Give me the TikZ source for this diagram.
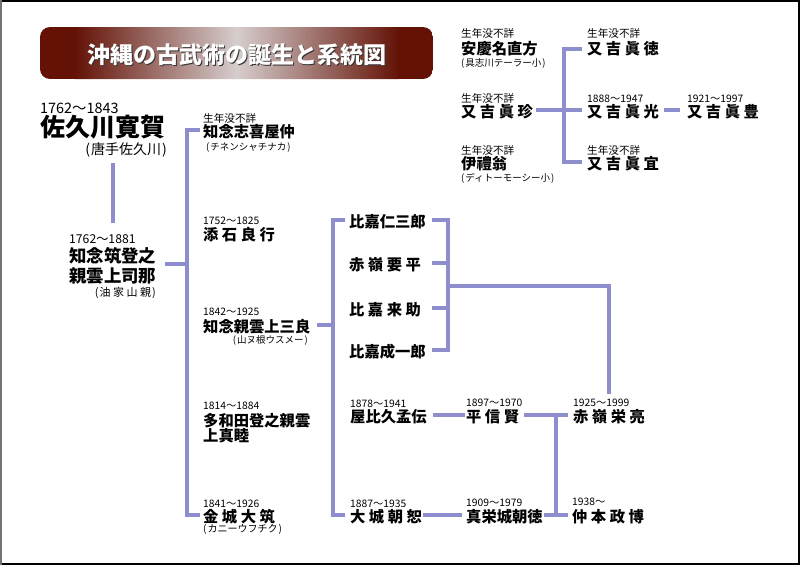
\documentclass[tikz,border=0pt]{standalone}
\usepackage{fontspec}
\setmainfont{Noto Sans CJK JP}
\definecolor{lav}{RGB}{142,142,206}
\definecolor{tdark}{RGB}{100,18,6}
\definecolor{tlight}{RGB}{214,206,206}
\newcommand\gp{\hspace{3.5pt}}
\begin{document}
\begin{tikzpicture}[x=1pt,y=-1pt,
  yr/.style={font=\fontsize{10.3}{12}\selectfont, anchor=base west, inner sep=0pt},
  sm/.style={font=\fontsize{10.6}{12}\selectfont, anchor=base west, inner sep=0pt},
  nm/.style={font=\bfseries\fontsize{15.3}{18}\selectfont, anchor=base west, inner sep=0pt, text height=13.8pt, text depth=0pt},
  sub/.style={font=\fontsize{9.5}{11}\selectfont, anchor=base west, inner sep=0pt},
  ln/.style={draw=lav, line width=3.8pt}]
\useasboundingbox (0,0) rectangle (800,565);
\fill[white] (0,0) rectangle (800,565);
% frame
\fill[black] (0,0) rectangle (800,1.8);
\fill[black] (0,562.5) rectangle (800,565);
\fill[black!55] (0,0) rectangle (2.2,565);
\fill[black] (797.5,0) rectangle (800,565);
% title
\begin{scope}
\clip[rounded corners=10pt] (40,27) rectangle (433,79);
\fill[tdark] (40,27) rectangle (76,79);
\shade[left color=tdark, right color=tlight] (75,27) rectangle (237,79);
\shade[left color=tlight, right color=tdark] (236,27) rectangle (399,79);
\fill[tdark] (398,27) rectangle (433,79);
\end{scope}
\node[font=\bfseries\fontsize{23}{26}\selectfont, text=black!80, anchor=base, inner sep=0pt] (titlesh) at (238,64.5) {沖縄の古武術の誕生と系統図};
\node[font=\bfseries\fontsize{23}{26}\selectfont, text=white, anchor=base, inner sep=0pt] (title) at (236.5,63) {沖縄の古武術の誕生と系統図};
% coordinates for trunks
\coordinate (t1) at (187,0);
\coordinate (t2) at (333,0);
\coordinate (r3) at (432,0);
\coordinate (b3) at (448,0);
\coordinate (v4) at (556,0);
\coordinate (b5) at (564,0);
% left column
\node[yr, font=\fontsize{14.4}{16}\selectfont] (ysaku) at (40,113) {1762〜1843};
\node[nm, font=\bfseries\fontsize{25}{28}\selectfont, text height=22pt] (saku) at (40,136.5) {佐久川寛賀};
\node[sub, font=\fontsize{14}{16}\selectfont, anchor=base east] (sakus) at (167,154) {(\kern1pt 唐手佐久川\kern1pt)};
\node[yr, font=\fontsize{12.2}{14}\selectfont] (ychik) at (69,243) {1762〜1881};
\node[nm, font=\bfseries\fontsize{17.4}{20}\selectfont] (chik1) at (69,262.5) {知念筑登之};
\node[nm, font=\bfseries\fontsize{17.4}{20}\selectfont] (chik2) at (69,282.5) {親雲上司那};
\node[sub, font=\fontsize{11}{13}\selectfont, anchor=base east] (chiks) at (156,296.5) {(\kern1pt 油\hspace{2.5pt}家\hspace{2.5pt}山\hspace{2.5pt}親\kern1pt)};
\coordinate (sakudown) at (113,163);
\coordinate (chikup) at (113,223);
\draw[ln] (sakudown) -- (chikup);
\draw[ln] ([shift={(9pt,-1.5pt)}]chik1.south east) coordinate (c0) -- (c0 -| t1);
% column 2
\node[sm] (sm1) at (203,122) {生年没不詳};
\node[nm] (shikiya) at (203,137) {知念志喜屋仲};
\node[sub] (shikiyas) at (206,150) {(\kern1pt チネンシャチナカ\kern1pt)};
\node[yr] (ysoe) at (203,224) {1752〜1825};
\node[nm] (soe) at (203,240) {添\gp{}石\gp{}良\gp{}行};
\node[yr] (ysan) at (203,315) {1842〜1925};
\node[nm] (san) at (203,332) {知念親雲上三良};
\node[sub, anchor=base east] (sans) at (308,343) {(\kern1pt 山ヌ根ウスメー\kern1pt)};
\node[yr] (ytawa) at (203,409) {1814〜1884};
\node[nm] (tawa1) at (203,426) {多和田登之親雲};
\node[nm] (tawa2) at (203,441) {上真睦};
\node[yr] (ykane) at (203,507) {1841〜1926};
\node[nm] (kane) at (203,522) {金\gp{}城\gp{}大\gp{}筑};
\node[sub, font=\fontsize{10}{12}\selectfont] (kanes) at (203,532.5) {(\kern1pt カニーウフチク\kern1pt)};
\draw[ln] ([xshift=-3pt]shikiya.west) -- (shikiya.west -| t1) -- (kane.west -| t1) -- ([xshift=-3pt]kane.west);
\draw[ln] ([xshift=6pt]san.east) -- (san.east -| t2);
% column 3
\node[nm] (higaj) at (349,227) {比嘉仁三郎};
\node[nm] (akay) at (349,270) {赤\gp{}嶺\gp{}要\gp{}平};
\node[nm] (higar) at (349,315) {比\gp{}嘉\gp{}来\gp{}助};
\node[nm] (higas) at (349,357) {比嘉成一郎};
\node[yr] (yyabi) at (350,407) {1878〜1941};
\node[nm] (yabi) at (350,422) {屋比久孟伝};
\node[yr] (yoshi) at (350,507) {1887〜1935};
\node[nm] (oshiro) at (350,522) {大\gp{}城\gp{}朝\gp{}恕};
\draw[ln] ([xshift=-4pt]higaj.west) -- (higaj.west -| t2) -- (oshiro.west -| t2) -- ([xshift=-5pt]oshiro.west);
\draw[ln] (higaj.east -| r3) -- (higaj.east -| b3) -- (higas.east -| b3) -- (higas.east -| r3);
\draw[ln] (akay.east -| r3) -- (akay.east -| b3);
\draw[ln] (higar.east -| r3) -- (higar.east -| b3);
% column 4 and 5
\node[yr] (yhei) at (466,406) {1897〜1970};
\node[nm] (hei) at (466,422) {平\gp{}信\gp{}賢};
\node[yr] (ymaei) at (466,506) {1909〜1979};
\node[nm] (maei) at (466,522) {真栄城朝徳};
\node[yr] (yeiryo) at (573,406) {1925〜1999};
\node[nm] (eiryo) at (573,422) {赤\gp{}嶺\gp{}栄\gp{}亮};
\node[yr] (ynaka) at (572,505) {1938〜};
\node[nm] (naka) at (572,522) {仲\gp{}本\gp{}政\gp{}博};
\draw[ln] ([xshift=6pt]yabi.east) -- ([xshift=-1pt]hei.west);
\draw[ln] ([xshift=1pt]oshiro.east) -- ([xshift=-4pt]maei.west);
\draw[ln] ([xshift=5pt]hei.east) -- ([xshift=-5pt]eiryo.west);
\draw[ln] ([xshift=1pt]maei.east) -- ([xshift=-4pt]naka.west);
\draw[ln] (hei.east -| v4) -- (maei.east -| v4);
\coordinate (j3) at (448,286);
\path (yeiryo.north -| eiryo.north) ++(0,-4) coordinate (etop);
\draw[ln] (j3) -| (etop);
% top right
\node[sm] (sma) at (461,37) {生年没不詳};
\node[nm] (ankei) at (461,54) {安慶名直方};
\node[sub] (ankeis) at (461,66) {(\kern1pt 具志川テーラー小\kern1pt)};
\node[sm] (smb) at (461,102) {生年没不詳};
\node[nm] (shinchin) at (461,117) {又\gp{}吉\gp{}眞\gp{}珍};
\node[sm] (smc) at (461,154) {生年没不詳};
\node[nm] (iri) at (461,169) {伊禮翁};
\node[sub] (iris) at (461,181.5) {(\kern1pt ディトーモーシー小\kern1pt)};
\node[sm] (smd) at (587,37) {生年没不詳};
\node[nm] (shintoku) at (587,54) {又\gp{}吉\gp{}眞\gp{}徳};
\node[yr] (yshinko) at (587,102) {1888〜1947};
\node[nm] (shinko) at (587,117) {又\gp{}吉\gp{}眞\gp{}光};
\node[yr] (yshinpo) at (687,102) {1921〜1997};
\node[nm] (shinpo) at (687,117) {又\gp{}吉\gp{}眞\gp{}豊};
\node[sm] (sme) at (587,154) {生年没不詳};
\node[nm] (shingi) at (587,169) {又\gp{}吉\gp{}眞\gp{}宜};
\draw[ln] ([shift={(-5pt,-2pt)}]shintoku.west) coordinate (c5) -- (c5 -| b5) -- (shingi.west -| b5) -- ([xshift=-5pt]shingi.west);
\draw[ln] ([xshift=3pt]shinchin.east) -- ([xshift=-5pt]shinko.west);
\draw[ln] ([xshift=5pt]shinko.east) -- ([xshift=-7pt]shinpo.west);
\end{tikzpicture}
\end{document}
